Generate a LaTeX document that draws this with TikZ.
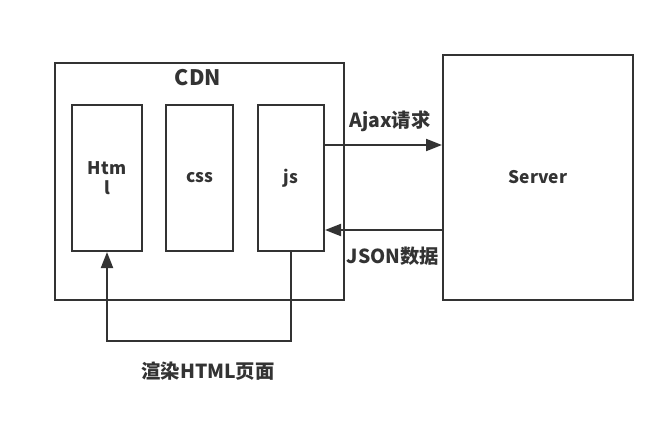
\documentclass[tikz,border=0pt]{standalone}
\usepackage{fontspec}
\setmainfont{Noto Sans CJK SC}
\usepackage{tikz}
\usetikzlibrary{positioning,arrows.meta}
\definecolor{ink}{RGB}{51,51,51}
\tikzset{
  box/.style ={draw=ink,line width=1.5pt,text=ink,align=center,inner sep=0pt,font=\bfseries\fontsize{13}{15}\selectfont},
  filebox/.style={box,minimum height=109.5pt},
  lbl/.style ={text=ink,inner sep=0pt,font=\bfseries\fontsize{14.5}{17}\selectfont},
  ar/.style  ={-{Triangle[length=12pt,width=9pt]},draw=ink,line width=1.5pt},
}
\begin{document}
\begin{tikzpicture}[x=0.75pt,y=-0.75pt,node distance=16.5pt]
\useasboundingbox (0,0) rectangle (670,431);
\node[box,minimum width=216.75pt,minimum height=177.75pt] (cdn) at (199.5,181.5) {};
\node[lbl,font=\bfseries\fontsize{16}{19}\selectfont] (cdnlbl) at (198,78) {CDN};
\node[filebox,minimum width=52.5pt] (html) at (107,178) {Htm\\l};
\node[filebox,minimum width=50.25pt,right=of html] (css) {css};
\node[filebox,minimum width=49.5pt,right=17.25pt of css] (js) {js};
\node[box,minimum width=142.5pt,minimum height=183.75pt] (srv) at (538,177.5) {Server};
% requests between js and server
\draw[ar] ([yshift=24.75pt]js.east) -- ([yshift=24.75pt]js.east -| srv.west);
\draw[ar] ([yshift=-39pt]js.east -| srv.west) -- ([yshift=-39pt]js.east);
\node[lbl] (ajax) at (390,121) {Ajax请求};
\node[lbl] (json) at (393,256) {JSON数据};
% render loop
\draw[ar] (js.south) -- ++(0,89) -| (html.south);
\node[lbl] (render) at (208,371) {渲染HTML页面};
\end{tikzpicture}
\end{document}
